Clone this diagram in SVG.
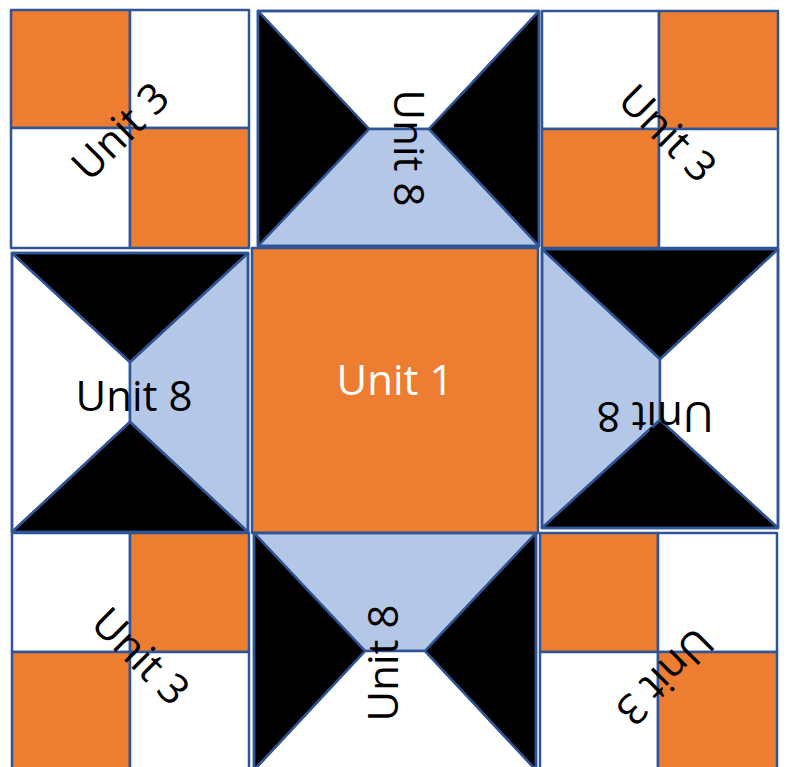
<svg xmlns="http://www.w3.org/2000/svg" width="788" height="767" viewBox="0 0 788 767">
<style>
.s{stroke:#2F5597;stroke-width:2.5;stroke-linejoin:round}
.o{fill:#ED7D31}
.w{fill:#FFFFFF}
.b{fill:#000000}
.l{fill:#B4C7E7}
.t{font-family:"Open Sans","Noto Sans",sans-serif;font-size:42px;text-anchor:middle;fill:#000}
</style>
<rect width="788" height="767" fill="#FFFFFF"/>
<g id="unit3-tl">
<rect class="s o" x="11" y="10" width="119" height="118"/>
<rect class="s w" x="130" y="10" width="119" height="118"/>
<rect class="s w" x="11" y="128" width="119" height="120"/>
<rect class="s o" x="130" y="128" width="119" height="120"/>
<text class="t" transform="translate(120,131) rotate(-45)" x="0" y="15">Unit 3</text>
</g>
<g id="unit8-top">
<polygon class="s w" points="258,11 539,11 429,129 369,129"/>
<polygon class="s l" points="369,129 429,129 539,246 258,246"/>
<polygon class="s b" points="258,11 369,129 258,246"/>
<polygon class="s b" points="539,11 429,129 539,246"/>
<rect class="s" fill="none" x="258" y="11" width="281" height="235"/>
<text class="t" transform="translate(409,148) rotate(90)" x="0" y="15">Unit 8</text>
</g>
<g id="unit3-tr">
<rect class="s w" x="542" y="11" width="117" height="118"/>
<rect class="s o" x="659" y="11" width="119" height="118"/>
<rect class="s o" x="542" y="129" width="117" height="119"/>
<rect class="s w" x="659" y="129" width="119" height="119"/>
<text class="t" transform="translate(668,133) rotate(45)" x="0" y="15">Unit 3</text>
</g>
<g id="unit8-left">
<polygon class="s w" points="12,253 130,362 130,422 12,532"/>
<polygon class="s l" points="248,253 130,362 130,422 248,532"/>
<polygon class="s b" points="12,253 248,253 130,362"/>
<polygon class="s b" points="12,532 248,532 130,422"/>
<rect class="s" fill="none" x="12" y="253" width="236" height="279"/>
<text class="t" x="134" y="411">Unit 8</text>
</g>
<g id="unit1">
<rect class="s o" x="252" y="248" width="286" height="285"/>
<text class="t" x="395" y="395" style="fill:#FFFFFF">Unit 1</text>
</g>
<g id="unit8-right">
<polygon class="s l" points="542,249 660,359 660,420 542,528"/>
<polygon class="s w" points="778,249 660,359 660,420 778,528"/>
<polygon class="s b" points="542,249 778,249 660,359"/>
<polygon class="s b" points="542,528 778,528 660,420"/>
<rect class="s" fill="none" x="542" y="249" width="236" height="279"/>
<text class="t" transform="translate(655,417) rotate(180)" x="0" y="15">Unit 8</text>
</g>
<g id="unit3-bl">
<rect class="s w" x="12" y="533" width="118" height="119"/>
<rect class="s o" x="130" y="533" width="119" height="119"/>
<rect class="s o" x="12" y="652" width="118" height="119"/>
<rect class="s w" x="130" y="652" width="119" height="119"/>
<text class="t" transform="translate(141,656) rotate(45)" x="0" y="15">Unit 3</text>
</g>
<g id="unit8-bottom">
<polygon class="s l" points="254,533 536,533 425,651 365,651"/>
<polygon class="s w" points="365,651 425,651 536,770 254,770"/>
<polygon class="s b" points="254,533 365,651 254,770"/>
<polygon class="s b" points="536,533 425,651 536,770"/>
<rect class="s" fill="none" x="254" y="533" width="282" height="237"/>
<text class="t" transform="translate(383,663) rotate(-90)" x="0" y="15">Unit 8</text>
</g>
<g id="unit3-br">
<rect class="s o" x="540" y="533" width="118" height="119"/>
<rect class="s w" x="658" y="533" width="119" height="119"/>
<rect class="s w" x="540" y="652" width="118" height="119"/>
<rect class="s o" x="658" y="652" width="119" height="119"/>
<text class="t" transform="translate(665,677) rotate(135)" x="0" y="15">Unit 3</text>
</g>
<g id="connectors"/>
</svg>
